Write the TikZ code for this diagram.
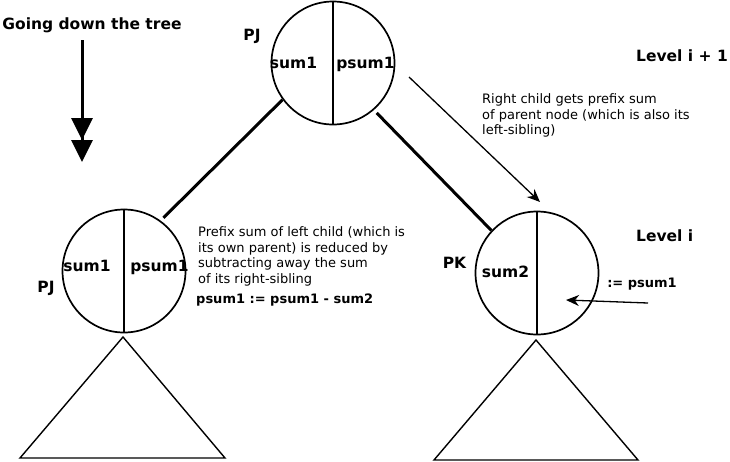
\documentclass[tikz,border=0pt]{standalone}
\usepackage{fontspec}
\setmainfont{DejaVu Sans}
\usetikzlibrary{arrows.meta}
\tikzset{
  lbl/.style={font=\fontsize{15.5}{18}\selectfont\bfseries, inner sep=0pt},
  note/.style={font=\fontsize{13}{15.6}\selectfont, inner sep=0pt, align=left},
  snote/.style={font=\fontsize{13}{15.6}\selectfont\bfseries, inner sep=0pt},
  tnode/.style={circle, draw, line width=1.7pt, minimum size=123pt, inner sep=0pt},
  divider/.style={line width=1.3pt},
  tree/.style={line width=3pt},
  ptr/.style={line width=1.3pt, -{Stealth[length=13pt,width=11pt]}},
  subtree/.style={line width=1.4pt, line join=miter},
}
\begin{document}
\begin{tikzpicture}[x=1pt,y=-1pt]
\useasboundingbox (0,0) rectangle (730,461);

% title and direction arrow
\node[lbl, anchor=base] (title) at (92,29) {Going down the tree};
\coordinate (dstart) at (82,40);
\coordinate (dend) at (82,162);
\draw[line width=3pt, -{Triangle[length=22pt,width=21pt]Triangle[length=22pt,width=21pt]}] (dstart) -- (dend);

% circles
\node[tnode] (top) at (333,63) {};
\node[tnode] (left) at (124,271) {};
\node[tnode] (right) at (537,273) {};
\draw[divider] (top.north) -- (top.south);
\draw[divider] (left.north) -- (left.south);
\draw[divider] (right.north) -- (right.south);

% labels inside circles
\node[lbl, anchor=base] (ts) at (293.5,68) {sum1};
\node[lbl, anchor=base] (tp) at (365.5,68) {psum1};
\node[lbl, anchor=base] (ls) at (87,271) {sum1};
\node[lbl, anchor=base] (lp) at (159.5,271) {psum1};
\node[lbl, anchor=base] (rs) at (505.5,277) {sum2};

% node names
\node[lbl, anchor=base] (pjtop) at (252,40) {PJ};
\node[lbl, anchor=base] (pjleft) at (46,292) {PJ};
\node[lbl, anchor=base] (pk) at (454.5,268) {PK};

% levels
\node[lbl, anchor=base west] (lev1) at (636,61) {Level i + 1};
\node[lbl, anchor=base west] (lev0) at (636,241) {Level i};

% tree edges
\draw[tree, shorten >=4pt] (top.216) -- (left.54);
\draw[tree, shorten <=4pt] (top.311) -- (right.137);

% right-child arrow and note
\coordinate (ra) at (409,77);
\coordinate (rb) at (540,202);
\draw[ptr] (ra) -- (rb);
\node[note, anchor=north west] (rnote) at (482,93.5) {Right child gets prefix sum\\of parent node (which is also its\\left-sibling)};

% left note
\node[note, anchor=north west] (lnote) at (198,226.5) {Prefix sum of left child (which is\\its own parent) is reduced by\\subtracting away the sum\\of its right-sibling};
\node[snote, anchor=base west] (lform) at (196,303) {psum1 := psum1 - sum2};

% assignment to right child
\node[snote, anchor=base] (asg) at (642,287) {:= psum1};
\coordinate (aa) at (648,303);
\coordinate (ab) at (566,300);
\draw[ptr] (aa) -- (ab);

% subtrees
\coordinate (lapex) at (123,337);
\coordinate (lbr) at (225,458);
\coordinate (lbl) at (20,458);
\draw[subtree] (lapex) -- (lbr) -- (lbl) -- cycle;
\coordinate (rapex) at (536,340);
\coordinate (rbr) at (638,460);
\coordinate (rbl) at (434,460);
\draw[subtree] (rapex) -- (rbr) -- (rbl) -- cycle;
\end{tikzpicture}
\end{document}
